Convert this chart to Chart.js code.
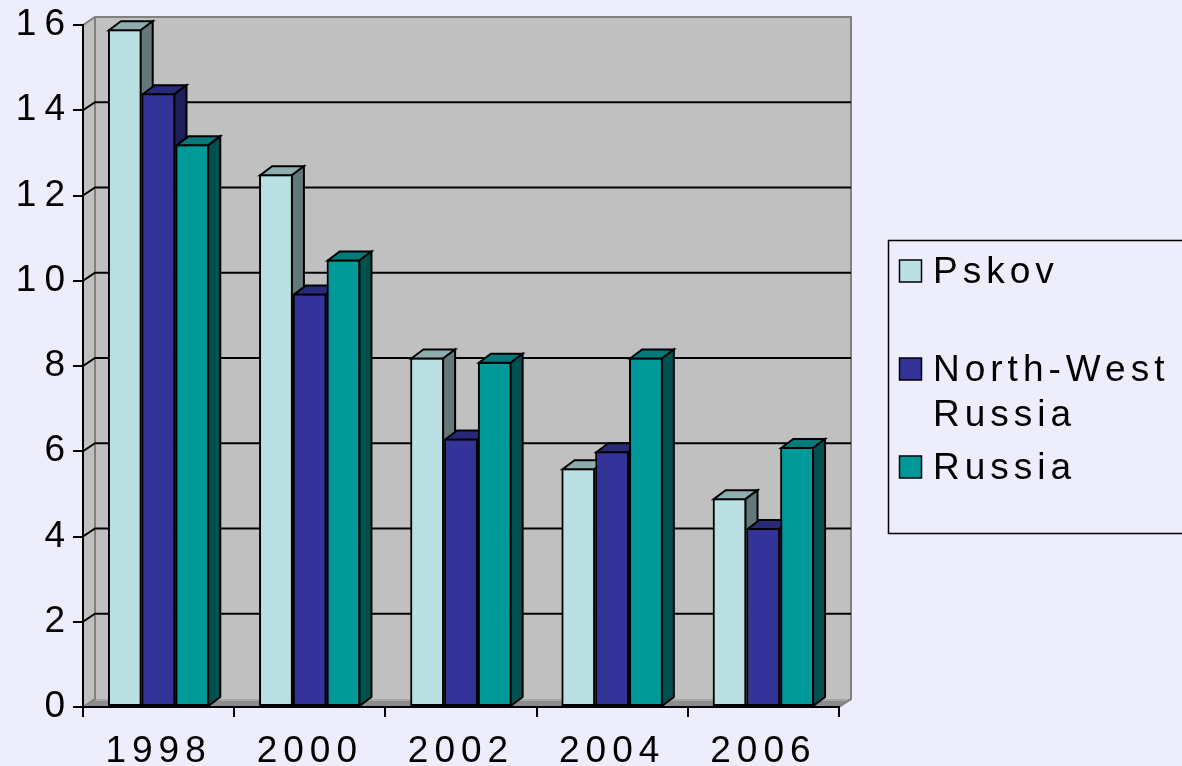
<!DOCTYPE html>
<html>
<head>
<meta charset="utf-8">
<script src="https://cdn.jsdelivr.net/npm/chart.js@4.4.1/dist/chart.umd.min.js"></script>
<style>
  html, body { margin: 0; padding: 0; background: #EDEDFB; }
  #wrap { width: 1182px; height: 766px; position: relative; }
</style>
</head>
<body>
<div id="wrap"><canvas id="c" width="1182" height="766"></canvas></div>
<script>
// ---- data ----
const categories = ['1998', '2000', '2002', '2004', '2006'];
const seriesNames = ['Pskov', 'North-West Russia', 'Russia'];
const pskov     = [15.9, 12.5, 8.2, 5.6, 4.9];
const northWest = [14.4, 9.7, 6.3, 6.0, 4.2];
const russia    = [13.2, 10.5, 8.1, 8.2, 6.1];
const yMin = 0, yMax = 16, yStep = 2;

// ---- styles ----
const frontColors = ['#BBE0E3', '#333399', '#009999'];
const topColors   = ['#8FADAF', '#29297A', '#007A7A'];
const sideColors  = ['#637879', '#1F1F5C', '#005050'];
const FONT = '"Liberation Sans", Arial, sans-serif';
const DX = 12, DY_BOX = 8, DY_BAR = 9;

function poly(ctx, pts, fill, stroke, lw) {
  ctx.beginPath();
  ctx.moveTo(pts[0][0], pts[0][1]);
  for (let i = 1; i < pts.length; i++) ctx.lineTo(pts[i][0], pts[i][1]);
  ctx.closePath();
  if (fill) { ctx.fillStyle = fill; ctx.fill(); }
  if (stroke) { ctx.strokeStyle = stroke; ctx.lineWidth = lw || 1; ctx.stroke(); }
}

const box3d = {
  id: 'box3d',
  beforeDraw(chart) {
    const ctx = chart.ctx, a = chart.chartArea, y = chart.scales.y;
    ctx.save();
    const bl = a.left + DX, bt = a.top - DY_BOX, br = a.right + DX, bb = a.bottom - DY_BOX;
    // back wall
    ctx.fillStyle = '#C0C0C0';
    ctx.fillRect(bl, bt, br - bl, bb - bt);
    // left wall
    poly(ctx, [[a.left, a.top], [bl, bt], [bl, bb], [a.left, a.bottom]], '#C0C0C0');
    // floor
    poly(ctx, [[a.left, a.bottom], [bl, bb], [br, bb], [a.right, a.bottom]], '#8C8C8C');
    ctx.strokeStyle = '#A6A6A6'; ctx.lineWidth = 2;
    ctx.beginPath(); ctx.moveTo(bl, bb + 1); ctx.lineTo(br, bb + 1); ctx.stroke();
    // gray edges
    ctx.strokeStyle = '#808080'; ctx.lineWidth = 2;
    ctx.beginPath();
    ctx.moveTo(a.left, a.top); ctx.lineTo(bl, bt); ctx.lineTo(br, bt); ctx.lineTo(br, bb); ctx.lineTo(a.right, a.bottom);
    ctx.stroke();
    ctx.beginPath(); ctx.moveTo(bl, bt); ctx.lineTo(bl, bb); ctx.lineTo(a.left, a.bottom); ctx.stroke();
    // gridlines on side and back walls
    ctx.strokeStyle = '#000'; ctx.lineWidth = 2;
    y.ticks.forEach(t => {
      if (t.value <= yMin || t.value >= yMax) return;
      const py = y.getPixelForValue(t.value);
      ctx.beginPath();
      ctx.moveTo(a.left, py); ctx.lineTo(bl, py - DY_BOX); ctx.lineTo(br, py - DY_BOX);
      ctx.stroke();
    });
    ctx.restore();
    ctx.letterSpacing = '8px';
  },
  afterDatasetsDraw(chart) {
    const ctx = chart.ctx, area = chart.chartArea;
    ctx.save();
    ctx.lineJoin = 'miter';
    // paint bars left to right so each bar covers its left neighbour's side face
    const n = chart.data.labels.length;
    for (let c = 0; c < n; c++) {
      chart.data.datasets.forEach((ds, i) => {
        const el = chart.getDatasetMeta(i).data[c];
        if (!el) return;
        el.draw(ctx, area);
        const p = el.getProps(['x', 'y', 'base', 'width'], true);
        const l = p.x - p.width / 2 + 1, r = p.x + p.width / 2 - 1, t = p.y + 1, b = p.base;
        poly(ctx, [[l, t], [l + DX, t - DY_BAR], [r + DX, t - DY_BAR], [r, t]], topColors[i], '#000', 2);
        poly(ctx, [[r, t], [r + DX, t - DY_BAR], [r + DX, b - DY_BAR], [r, b]], sideColors[i], '#000', 2);
      });
    }
    ctx.restore();
    ctx.letterSpacing = '6px';
  },
  afterDraw(chart) {
    const ctx = chart.ctx;
    ctx.save();
    ctx.letterSpacing = '5px';
    ctx.font = '37px ' + FONT;
    ctx.textBaseline = 'alphabetic';
    ctx.textAlign = 'left';
    // legend frame
    ctx.strokeStyle = '#000'; ctx.lineWidth = 1.5;
    ctx.strokeRect(888.5, 240.5, 320, 293);
    const textX = 933, maxW = 1182 - textX - 4;
    let base = 283;
    chart.data.datasets.forEach((ds, i) => {
      ctx.fillStyle = ds.backgroundColor;
      ctx.fillRect(899.5, base - 23, 22, 22);
      ctx.strokeStyle = '#000'; ctx.lineWidth = 1.5;
      ctx.strokeRect(899.5, base - 23, 22, 22);
      const words = ds.label.split(' ');
      const lines = [];
      let cur = '';
      words.forEach(w => {
        const test = cur ? cur + ' ' + w : w;
        if (cur && ctx.measureText(test).width > maxW) { lines.push(cur); cur = w; }
        else cur = test;
      });
      lines.push(cur);
      ctx.fillStyle = '#000';
      lines.forEach((ln, k) => ctx.fillText(ln, textX, base + k * 45));
      base += 98;
    });
    ctx.restore();
  }
};

Chart.defaults.font.family = FONT;
Chart.defaults.color = '#000';

new Chart(document.getElementById('c'), {
  type: 'bar',
  data: {
    labels: categories,
    datasets: [
      { label: seriesNames[0], data: pskov,     backgroundColor: frontColors[0] },
      { label: seriesNames[1], data: northWest, backgroundColor: frontColors[1] },
      { label: seriesNames[2], data: russia,    backgroundColor: frontColors[2] }
    ].map(d => Object.assign(d, { borderColor: '#000', borderWidth: 2, borderSkipped: false,
                                   categoryPercentage: 0.67, barPercentage: 1.0 }))
  },
  options: {
    responsive: false,
    animation: false,
    devicePixelRatio: 1,
    layout: { padding: { top: 25, right: 343, left: 0, bottom: 0 } },
    plugins: { legend: { display: false }, tooltip: { enabled: false } },
    scales: {
      x: {
        grid: { offset: true, drawOnChartArea: false, drawTicks: true, tickLength: 10, color: '#000', lineWidth: 2, z: 1 },
        border: { display: true, color: '#000', width: 2, z: 1 },
        ticks: { font: { size: 37 }, color: '#000', padding: 13, maxRotation: 0, z: 1 },
        afterFit(s) { s.height = 59; }
      },
      y: {
        min: yMin, max: yMax,
        grid: { drawOnChartArea: false, drawTicks: true, tickLength: 10, color: '#000', lineWidth: 2 },
        border: { display: true, color: '#000', width: 2 },
        ticks: { stepSize: yStep, font: { size: 37 }, color: '#000', padding: 0 },
        afterFit(s) { s.width = 83; }
      }
    }
  },
  plugins: [box3d]
});
</script>
</body>
</html>
